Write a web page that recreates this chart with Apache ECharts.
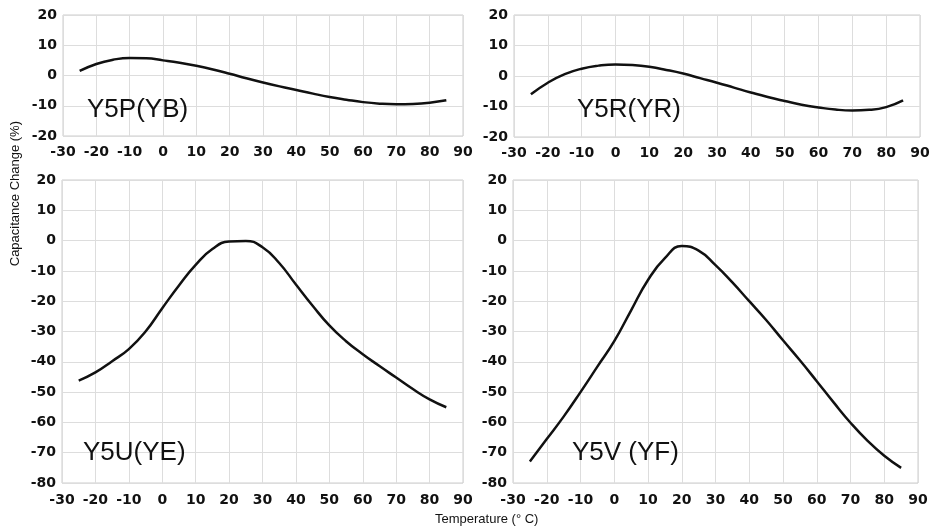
<!DOCTYPE html>
<html><head><meta charset="utf-8">
<script src="https://cdn.jsdelivr.net/npm/echarts@6/dist/echarts.min.js"></script>
<style>html,body{margin:0;padding:0;background:#fff}#c{width:933px;height:528px}</style>
</head><body><div id="c"></div>
<script>
const temps = [-25,-20,-15,-10,-5,0,5,10,15,20,25,30,35,40,45,50,55,60,65,70,75,80,85];
const y5p = [1.5,3.8,5.2,5.8,5.7,5.0,4.2,3.2,2.0,0.6,-0.9,-2.3,-3.6,-4.8,-6.0,-7.1,-8.0,-8.8,-9.3,-9.5,-9.4,-9.0,-8.2];
const y5r = [-6.0,-2.2,0.6,2.4,3.4,3.8,3.6,3.0,2.0,0.8,-0.7,-2.2,-3.8,-5.4,-6.9,-8.2,-9.4,-10.3,-11.0,-11.3,-11.1,-10.2,-8.0];
const y5u = [-46.2,-43.5,-39.8,-35.8,-30.0,-22.3,-14.8,-8.0,-2.8,-0.3,-0.1,-2.2,-7.4,-14.5,-21.5,-28.0,-33.2,-37.5,-41.4,-45.2,-49.0,-52.4,-55.0];
const y5v = [-72.9,-65.5,-58.1,-50.0,-41.6,-33.2,-23.0,-13.0,-5.8,-1.8,-3.3,-8.1,-13.8,-20.0,-26.2,-32.9,-39.5,-46.4,-53.4,-60.1,-66.0,-71.0,-75.0];
const names = ['Y5P(YB)','Y5R(YR)','Y5U(YE)','Y5V (YF)'];
const xTicks = [-30,90,10];
const yTopRange = [-20,20];
const yBotRange = [-80,20];

const grids = [
  {left:63, top:15, width:400, height:121},
  {left:514, top:15, width:406, height:122},
  {left:62, top:180, width:401, height:303},
  {left:513, top:180, width:405, height:303}
];
const labelPos = [[87,97],[577,97],[83,440],[572,440]];
const seriesVals = [y5p,y5r,y5u,y5v];
const tickFont = {fontFamily:'DejaVu Sans', fontWeight:'bold', fontSize:14, color:'#111'};

const chart = echarts.init(document.getElementById('c'), null, {renderer:'canvas'});
const opt = {
  backgroundColor:'#fff',
  animation:false,
  grid: grids.map(g => Object.assign({show:true, borderColor:'#cccccc', borderWidth:1, backgroundColor:'#fff'}, g)),
  xAxis: grids.map((g,i) => ({
    type:'value', gridIndex:i, min:xTicks[0], max:xTicks[1], interval:xTicks[2],
    axisLine:{show:false}, axisTick:{show:false},
    splitLine:{show:true, lineStyle:{color:'#dddddd', width:1}},
    axisLabel:Object.assign({margin:i<2?9:10}, tickFont)
  })),
  yAxis: grids.map((g,i) => {
    const r = i<2 ? yTopRange : yBotRange;
    return {
      type:'value', gridIndex:i, min:r[0], max:r[1], interval:10,
      axisLine:{show:false}, axisTick:{show:false},
      splitLine:{show:true, lineStyle:{color:'#dddddd', width:1}},
      axisLabel:Object.assign({margin:6}, tickFont)
    };
  }),
  title: names.map((n,i) => ({
    text:n, left:labelPos[i][0], top:labelPos[i][1], padding:0,
    textStyle:{fontFamily:'Liberation Sans', fontWeight:'normal', fontSize:26, color:'#111'}
  })),
  graphic: [
    {type:'text', left:9, top:121, rotation:Math.PI/2, style:{text:'Capacitance Change (%)', fontFamily:'Liberation Sans', fontSize:13, fill:'#111'}},
    {type:'text', left:435, top:513, style:{text:'Temperature (° C)', fontFamily:'Liberation Sans', fontSize:13, fill:'#111'}}
  ],
  series: seriesVals.map((v,i) => ({
    type:'line', xAxisIndex:i, yAxisIndex:i, smooth:0.5, showSymbol:false,
    lineStyle:{color:'#111', width:2.5},
    data: temps.map((t,k) => [t, v[k]])
  }))
};
chart.setOption(opt);
</script>
</body></html>
